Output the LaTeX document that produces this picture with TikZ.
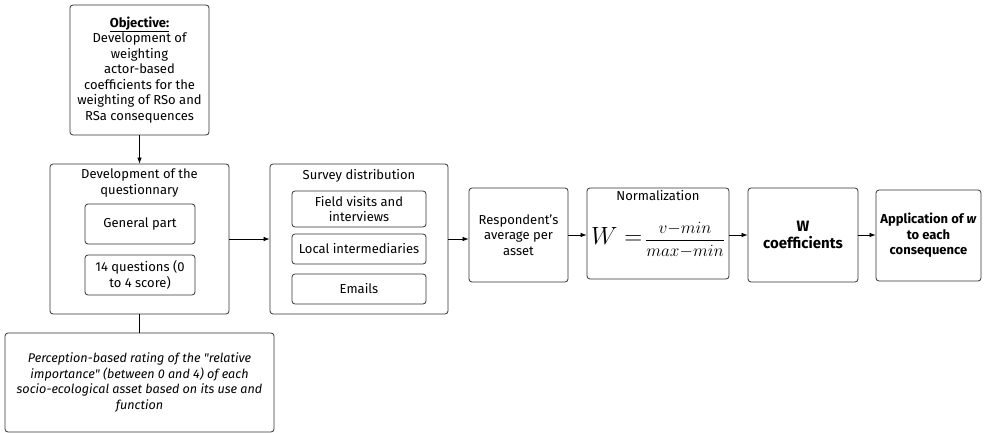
\documentclass[tikz,border=0pt]{standalone}
\usepackage{fontspec}
\setmainfont{Fira Sans}
\usetikzlibrary{arrows.meta}

\begin{document}
\begin{tikzpicture}[
  x=1pt, y=-1pt,
  line join=round,
  box/.style={draw=black!80, line width=0.8pt, rounded corners=3pt,
    align=center, inner sep=2pt, font=\fontsize{13}{15.5}\selectfont},
  title/.style={align=center, inner sep=0pt, font=\fontsize{13}{15.5}\selectfont},
  flow/.style={line width=0.7pt, -{Latex[length=6pt,width=4.5pt]}},
]
\useasboundingbox (0,0) rectangle (984,433);

% objective and questionnaire
\node[box, minimum width=139pt, minimum height=130pt] (obj) at (139.5,70)
  {\textbf{\underline{Objective:}}\\Development of\\weighting\\actor-based\\
   coefficients for the\\weighting of RSo and\\RSa consequences};
\node[box, minimum width=179pt, minimum height=150pt] (quest) at (139.5,239) {};
\node[title, anchor=north] (questT) at (139.5,169) {Development of the\\questionnary};
\node[box, minimum width=110pt, minimum height=40pt] (gen) at (140,224) {General part};
\node[box, minimum width=110pt, minimum height=40pt] (q14) at (140,275)
  {14 questions (0\\to 4 score)};
\node[box, minimum width=269pt, minimum height=99pt,
  font=\fontsize{12.6}{15.5}\selectfont\itshape] (perc) at (139.5,382.5)
  {Perception-based rating of the \textquotedbl relative\\
   importance\textquotedbl{} (between 0 and 4) of each\\
   socio-ecological asset based on its use and\\function};

% survey
\node[box, minimum width=178pt, minimum height=150pt] (survey) at (359,239) {};
\node[title, anchor=north] (surveyT) at (359,169) {Survey distribution};
\node[box, minimum width=134pt, minimum height=36pt] (field) at (359,209)
  {Field visits and\\interviews};
\node[box, minimum width=134pt, minimum height=30pt] (local) at (359,249)
  {Local intermediaries};
\node[box, minimum width=134pt, minimum height=30pt] (emails) at (359,289) {Emails};

% the rest of the chain
\node[box, minimum width=99pt, minimum height=94pt] (resp) at (518.5,235)
  {Respondent's\\average per\\asset};
\node[box, minimum width=142pt, minimum height=91pt] (norm) at (658,233.5) {};
\node[title, anchor=north] (normT) at (658,190) {Normalization};
\node[inner sep=0pt] (formula) at (658,240)
  {{\fontsize{27}{30}\selectfont$W =$}\;%
   {\fontsize{17}{20}\selectfont$\displaystyle\frac{v{-}min}{max{-}min}$}};

\node[box, minimum width=110pt, minimum height=94pt,
  font=\fontsize{15}{17}\selectfont\bfseries] (wcoef) at (803,235) {W\\coefficients};
\node[box, minimum width=105pt, minimum height=91pt,
  font=\fontsize{13}{15.5}\selectfont\bfseries] (app) at (928.5,235.5)
  {Application of \textit{w}\\to each\\consequence};

\draw[flow] (obj) -- (quest);
\draw[line width=0.7pt] (quest) -- (perc);
\draw[flow] (quest.east |- 0,239) -- (survey.west |- 0,239);
\draw[flow] (survey.east |- 0,239) -- (resp.west |- 0,239);
\foreach \a/\b in {resp/norm, norm/wcoef, wcoef/app} {
  \draw[flow] (\a.east |- 0,235) -- (\b.west |- 0,235);
}

\end{tikzpicture}
\end{document}
